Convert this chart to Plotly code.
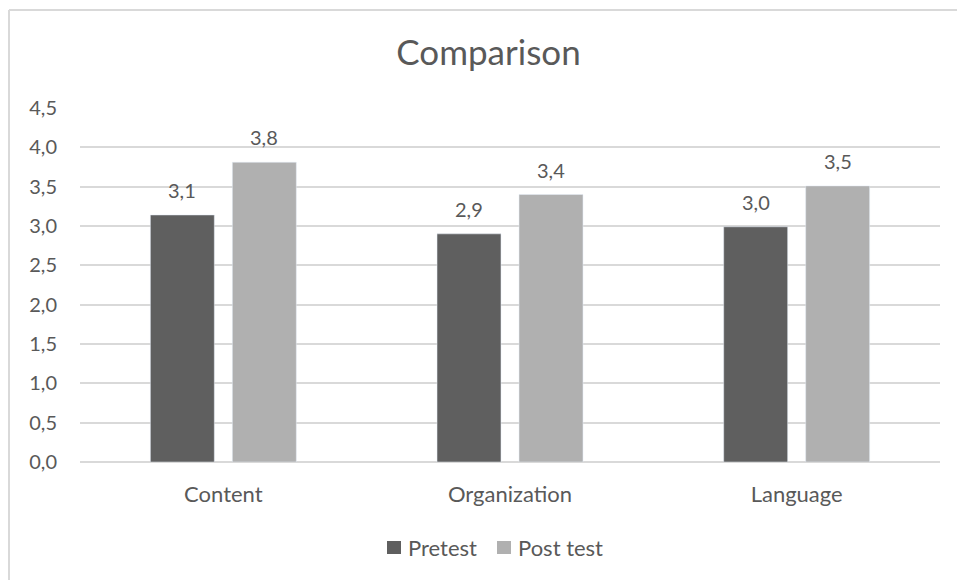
import plotly.graph_objects as go

categories = ["Content", "Organization", "Language"]
pretest = [3.14, 2.90, 2.99]
post_test = [3.81, 3.40, 3.51]
y_ticks = [0.0, 0.5, 1.0, 1.5, 2.0, 2.5, 3.0, 3.5, 4.0, 4.5]
series_names = ["Pretest", "Post test"]

FONT = "Lato"
TEXT = "#595959"
GRID = "#d9d9d9"
DARK = "#5f5f5f"
LIGHT = "#b0b0b0"

W, H = 957, 580
ML, MR, MT, MB = 80, 17, 108, 118
PW, PH = W - ML - MR, H - MT - MB


def px_x(p):
    return (p - ML) / PW


def px_y(p):
    return (H - MB - p) / PH


fig = go.Figure()
fig.add_trace(go.Bar(name=series_names[0], x=categories, y=pretest, marker_color=DARK))
fig.add_trace(go.Bar(name=series_names[1], x=categories, y=post_test, marker_color=LIGHT))

# value labels above each bar
for vals, shift in ((pretest, -41), (post_test, 41)):
    for c, v in zip(categories, vals):
        fig.add_annotation(x=c, y=v, text=f"{v:.1f}".replace(".", ","),
                           showarrow=False, xshift=shift, yshift=25,
                           yanchor="middle",
                           font=dict(family=FONT, size=20, color=TEXT))

# chart frame (top and left edges)
fig.add_shape(type="line", xref="paper", yref="paper", x0=px_x(9), x1=2,
              y0=px_y(10), y1=px_y(10), line=dict(color=GRID, width=2))
fig.add_shape(type="line", xref="paper", yref="paper", x0=px_x(9), x1=px_x(9),
              y0=-2, y1=px_y(10), line=dict(color=GRID, width=2))

# legend: square swatch + label
for name, color, sx in ((series_names[0], DARK, 387), (series_names[1], LIGHT, 497)):
    fig.add_shape(type="rect", xref="paper", yref="paper",
                  x0=px_x(sx), x1=px_x(sx + 14), y0=px_y(554), y1=px_y(541),
                  fillcolor=color, line=dict(width=0))
    fig.add_annotation(xref="paper", yref="paper", x=px_x(sx + 19), y=px_y(547),
                       text=name, showarrow=False, xanchor="left", yanchor="middle",
                       font=dict(family=FONT, size=22, color=TEXT))

fig.update_layout(
    width=W, height=H,
    margin=dict(l=ML, r=MR, t=MT, b=MB),
    paper_bgcolor="white", plot_bgcolor="white",
    separators=",.",
    barmode="group", bargap=0.428, bargroupgap=0.22,
    title=dict(text="Comparison", xref="paper", x=px_x(488.5), xanchor="center",
               y=1 - 53 / H, yanchor="middle",
               font=dict(family=FONT, size=35, color=TEXT)),
    font=dict(family=FONT, size=20, color=TEXT),
    showlegend=False,
    xaxis=dict(showgrid=False, showline=False, ticks="", ticklabelstandoff=17,
               tickfont=dict(family=FONT, size=22, color=TEXT)),
    yaxis=dict(range=[0, 4.5], tickvals=y_ticks, tickformat=".1f",
               showgrid=True, gridcolor=GRID, gridwidth=2,
               zeroline=True, zerolinecolor=GRID, zerolinewidth=2,
               showline=False, ticks="", ticklabelstandoff=22,
               tickfont=dict(family=FONT, size=20, color=TEXT)),
)

fig.write_html("out.html")
